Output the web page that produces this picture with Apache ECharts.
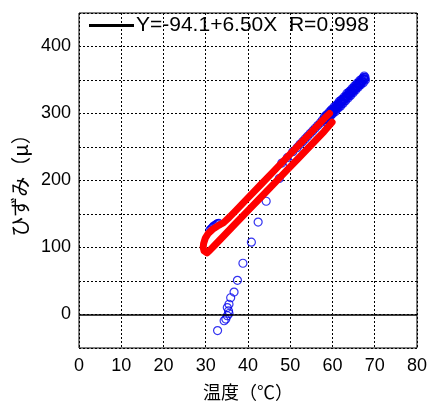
<!DOCTYPE html>
<html>
<head>
<meta charset="utf-8">
<script src="https://cdn.jsdelivr.net/npm/echarts@6/dist/echarts.min.js"></script>
<style>
  html, body { margin: 0; padding: 0; background: #fff; }
  #chart { width: 430px; height: 406px; }
</style>
</head>
<body>
<div id="chart"></div>
<script>
// Strain (μ) vs temperature (℃)
const xAxisTicks = [0, 10, 20, 30, 40, 50, 60, 70, 80];
const yAxisTicks = [0, 100, 200, 300, 400];

// Measured points: [temperature, strain]
const measuredPoints = [
  [32.8, -24], [34.35, -9.3], [34.75, -6.8], [35.1, -1.9], [35.5, 1.5], [35.4, 5.4],
  [35.1, 10.3], [35.5, 15.3], [35.9, 25], [36.7, 33.4], [37.5, 51],
  [38.8, 76.5], [40.8, 108], [42.4, 138], [44.3, 169],
  [31.0, 126], [31.3, 128], [31.6, 130], [31.9, 132], [32.2, 133], [32.5, 134.5],
  [32.8, 135.5], [33.1, 136],
  [47.4, 203], [49.9, 226],
  [48.0, 226], [49.3, 234], [50.6, 243], [51.6, 249], [52.3, 254], [52.9, 258],
  [53.5, 262], [54.1, 266], [54.7, 270], [55.3, 274], [55.9, 278], [56.5, 282],
  [57.1, 286], [57.6, 290],
  [58.0, 290], [58.2, 292], [58.5, 293], [58.7, 295], [58.9, 296], [59.1, 298],
  [59.3, 298], [59.5, 300], [59.7, 302], [59.9, 302], [60.1, 304], [60.3, 305],
  [60.5, 307], [60.7, 308], [60.9, 309], [61.1, 311], [61.3, 311], [61.5, 313],
  [61.7, 315], [61.9, 316], [62.1, 317], [62.3, 318], [62.5, 320], [62.7, 321],
  [62.9, 322], [63.1, 324], [63.3, 325], [63.5, 326], [63.7, 328], [63.9, 329],
  [64.1, 330], [64.3, 331], [64.5, 332], [64.7, 334], [64.9, 335], [65.1, 336],
  [65.3, 338], [65.5, 339], [65.7, 340], [65.9, 341], [66.1, 343], [66.3, 343],
  [66.5, 345], [66.7, 346], [66.9, 348], [67.1, 349], [67.3, 351], [67.5, 352],
  [67.7, 354],
  [58.1, 295], [58.6, 298], [59.2, 302], [59.8, 306], [60.4, 310], [61.0, 313],
  [61.6, 318], [62.2, 321], [62.8, 325], [63.4, 330], [64.0, 333], [64.6, 337],
  [65.2, 341], [65.8, 345], [66.4, 349], [67.0, 352], [67.5, 356],
  [58.3, 288], [58.9, 292], [59.5, 296], [60.1, 300], [60.7, 303], [61.3, 308],
  [61.9, 311], [62.5, 315], [63.1, 319], [63.7, 323], [64.3, 327], [64.9, 331],
  [65.5, 335], [66.1, 339], [66.7, 343], [67.3, 346], [67.8, 350],
  [58.4, 296], [59.0, 299], [59.6, 304], [60.2, 307], [60.8, 311], [61.4, 315],
  [62.0, 319], [62.6, 322], [63.2, 326], [63.8, 331], [64.4, 334], [65.0, 338],
  [65.6, 342], [66.2, 346], [66.8, 350], [67.4, 354],
  [58.6, 291], [59.2, 295], [59.8, 299], [60.4, 303], [61.0, 307], [61.6, 311],
  [62.2, 315], [62.8, 319], [63.4, 323], [64.0, 327], [64.6, 331], [65.2, 335],
  [65.8, 339], [66.4, 343], [67.0, 347], [67.6, 351]
];

// Heating / cooling loop: [temperature, strain]
const loopPath = [
  [59.9, 287], [58, 273], [55, 253.3], [52, 233.6], [49, 214], [46, 194.3],
  [43, 174.7], [40, 155], [37, 135.4], [34, 115.7], [32, 102.6], [31, 96],
  [30.3, 92], [29.6, 95], [29.4, 100], [29.5, 106], [29.9, 114], [30.6, 121],
  [31.6, 127], [32.8, 132], [34.2, 137], [35.5, 144.5], [37, 154.4], [40, 174],
  [43, 193.7], [46, 213.3], [49, 233], [52, 252.6], [55, 272.3], [58, 292],
  [59.3, 300]
];

const fitLabel = 'Y=-94.1+6.50X  R=0.998';

const chart = echarts.init(document.getElementById('chart'), null, { renderer: 'canvas' });
const latin = '"Liberation Sans", Arial, sans-serif';
const cjk = '"Noto Sans CJK JP", "Liberation Sans", sans-serif';
const gridLine = { show: true, lineStyle: { color: '#000', width: 1, type: [2, 2] } };

chart.setOption({
  backgroundColor: '#fff',
  animation: false,
  grid: {
    left: 79, right: 11, top: 13, bottom: 54,
    show: true, borderColor: '#000', borderWidth: 1, backgroundColor: 'transparent'
  },
  legend: {
    data: [{ name: fitLabel, icon: 'rect' }],
    left: 89, top: 15, padding: 0,
    itemWidth: 45, itemHeight: 3, itemGap: 4,
    itemStyle: { color: '#000' },
    textStyle: { fontFamily: latin, fontSize: 21, color: '#000', padding: [0, 0, 0, -3] }
  },
  xAxis: {
    type: 'value',
    min: xAxisTicks[0], max: xAxisTicks[xAxisTicks.length - 1], interval: 10,
    name: '温度（℃）', nameLocation: 'middle', nameGap: 35,
    nameTextStyle: { fontFamily: cjk, fontSize: 18, color: '#000' },
    axisLine: { show: false }, axisTick: { show: false },
    axisLabel: { fontFamily: latin, fontSize: 18, color: '#000', margin: 9 },
    splitLine: gridLine
  },
  yAxis: {
    type: 'value',
    min: -50, max: 450, interval: 50,
    name: 'ひずみ（μ）', nameLocation: 'middle', nameGap: 46,
    nameTextStyle: { fontFamily: cjk, fontSize: 20, color: '#000' },
    axisLine: { show: false }, axisTick: { show: false },
    axisLabel: {
      fontFamily: latin, fontSize: 18, color: '#000', margin: 8,
      formatter: v => (yAxisTicks.indexOf(v) >= 0 ? String(v) : '')
    },
    splitLine: gridLine
  },
  series: [
    {
      name: 'measured', type: 'scatter', data: measuredPoints,
      symbol: 'circle', symbolSize: 8,
      itemStyle: { color: 'rgba(0,0,0,0)', borderColor: '#0000ee', borderWidth: 1.2 },
      markLine: {
        silent: true, symbol: 'none', label: { show: false },
        lineStyle: { color: '#000', width: 1.5, type: 'solid' },
        data: [{ yAxis: 0 }]
      },
      z: 2
    },
    {
      name: 'loop', type: 'line', data: loopPath,
      showSymbol: false, symbol: 'none', smooth: false,
      lineStyle: { color: '#ff0000', width: 7, cap: 'round', join: 'round' },
      z: 3
    },
    {
      name: fitLabel, type: 'line', data: [],
      symbol: 'none', color: '#000',
      lineStyle: { color: '#000', width: 2 }
    }
  ]
});
</script>
</body>
</html>
